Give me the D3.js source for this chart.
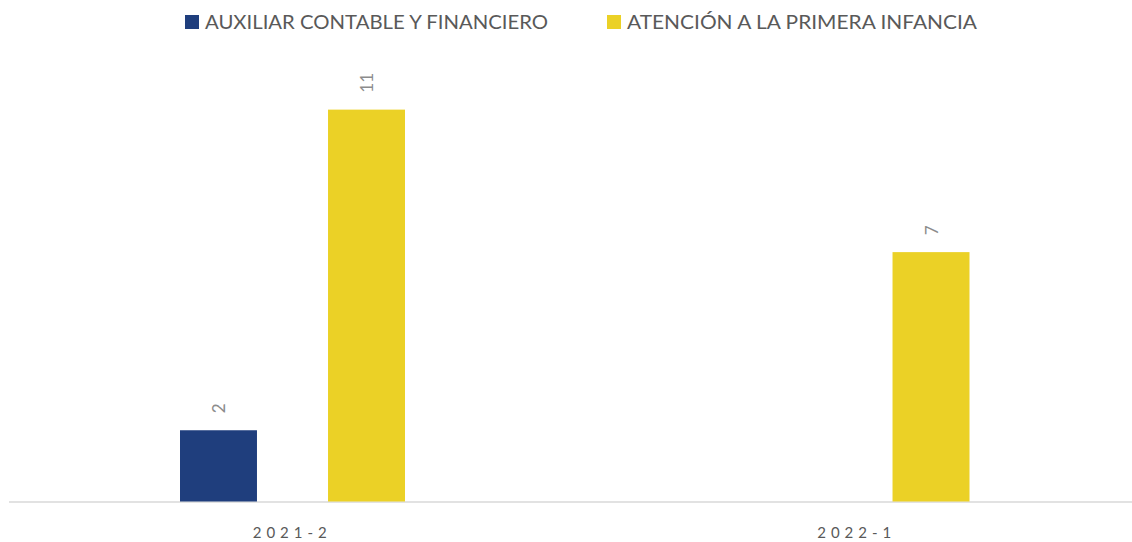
<!DOCTYPE html>
<html>
<head>
<meta charset="utf-8">
<script src="https://cdn.jsdelivr.net/npm/d3@7"></script>
<style>
  body { margin: 0; background: #fff; }
  text { font-family: Lato, "Open Sans", sans-serif; }
</style>
</head>
<body>
<div id="chart"></div>
<script>
// data
var categories = ["2021-2", "2022-1"];
var seriesNames = ["AUXILIAR CONTABLE Y FINANCIERO", "ATENCIÓN A LA PRIMERA INFANCIA"];
var auxiliarValues = [2, null];
var atencionValues = [11, 7];
var colors = ["#1F3E7D", "#EBD126"];

var width = 1132, height = 542;
var svg = d3.select("#chart").append("svg").attr("width", width).attr("height", height);

var x0 = d3.scaleBand().domain(categories).range([10, 1139]);
// two bars of 77px with a 71px gap, starting 170px into each band
var x1 = d3.scaleBand().domain([0, 1]).range([170, 395]).paddingInner(0.48);
var y = d3.scaleLinear().domain([0, 12]).range([501.5, 74]);

var rows = categories.map(function(c, i){
  return { cat: c, vals: [auxiliarValues[i], atencionValues[i]] };
});

function present(d){
  return d.vals.map(function(v, k){ return {v: v, k: k}; }).filter(function(e){ return e.v != null; });
}

// baseline
svg.append("line").attr("x1", 9).attr("x2", width).attr("y1", y(0) + 0.5).attr("y2", y(0) + 0.5)
  .style("stroke", "#d9d9d9").style("stroke-width", 1.5);

var groups = svg.selectAll("g.grp").data(rows).enter().append("g")
  .attr("class", "grp")
  .attr("transform", function(d){ return "translate(" + x0(d.cat) + ",0)"; });

groups.selectAll("rect").data(present)
  .enter().append("rect")
  .attr("x", function(d){ return x1(d.k); })
  .attr("width", x1.bandwidth())
  .attr("y", function(d){ return y(d.v); })
  .attr("height", function(d){ return y(0) - y(d.v); })
  .style("fill", function(d){ return colors[d.k]; });

groups.selectAll("text.val").data(present)
  .enter().append("text")
  .attr("class", "val")
  .attr("transform", function(d){ return "translate(" + (x1(d.k) + x1.bandwidth() / 2 + 6.5) + "," + (y(d.v) - 17) + ") rotate(-90)"; })
  .style("font-size", "17px").style("fill", "#8c8c8c")
  .text(function(d){ return d.v; });

// x axis labels
var xAxis = d3.axisBottom(x0).tickSize(0).tickPadding(0);
var ax = svg.append("g").attr("transform", "translate(0," + (y(0) + 26) + ")").call(xAxis);
ax.select(".domain").remove();
ax.selectAll("text").style("font-size", "15px").style("fill", "#595959")
  .style("letter-spacing", "5px").style("font-family", "Lato, sans-serif");

// legend
var legendX = [185, 607];
var legendW = [343, 350];
seriesNames.forEach(function(n, i){
  svg.append("rect").attr("x", legendX[i]).attr("y", 15).attr("width", 14).attr("height", 14).style("fill", colors[i]);
  svg.append("text").attr("x", legendX[i] + 20).attr("y", 29)
    .attr("textLength", legendW[i]).attr("lengthAdjust", "spacingAndGlyphs")
    .style("font-size", "20px").style("fill", "#595959").text(n);
});
</script>
</body>
</html>
